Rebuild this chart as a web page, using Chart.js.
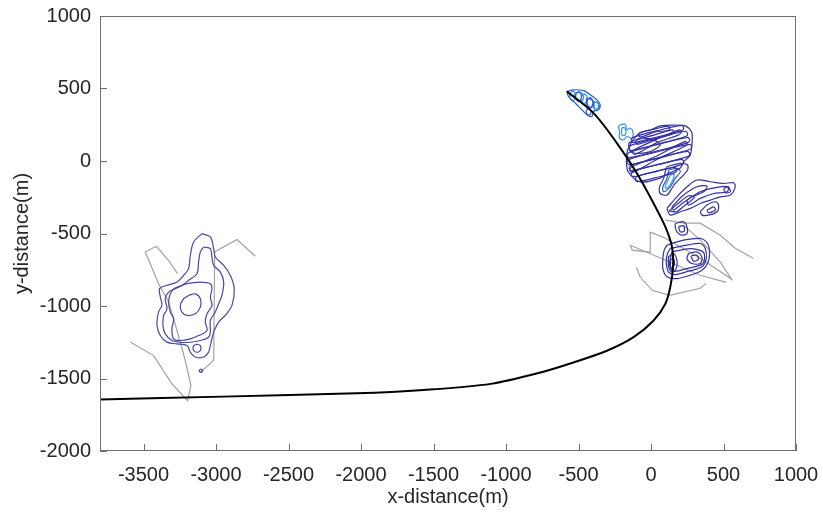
<!DOCTYPE html>
<html>
<head>
<meta charset="utf-8">
<script src="https://cdn.jsdelivr.net/npm/chart.js@4.4.0/dist/chart.umd.min.js"></script>
<style>
  body { margin: 0; background: #fff; }
</style>
</head>
<body>
<canvas id="track-chart" width="823" height="515"></canvas>
<script>
// axis ticks
const xTicks = [-3500, -3000, -2500, -2000, -1500, -1000, -500, 0, 500, 1000];
const yTicks = [-2000, -1500, -1000, -500, 0, 500, 1000];

// black track
const trackX = [-3800, -2950, -2030, -1570, -1105, -763, -530, -300, -120, 18, 99, 133, 152, 145, 99, 18, -97, -234, -396, -580];
const trackY = [-1644, -1625, -1602, -1579, -1537, -1459, -1388, -1307, -1215, -1100, -984, -869, -731, -593, -454, -293, -85, 122, 330, 480];

// left cluster contours
const leftOuter = [[-3097,-501],[-3039,-524],[-3016,-604],[-3005,-662],[-2947,-720],[-2901,-789],[-2874,-881],[-2890,-996],[-2936,-1065],[-2982,-1111],[-3016,-1180],[-3028,-1226],[-3039,-1272],[-3051,-1318],[-3085,-1352],[-3143,-1352],[-3177,-1318],[-3200,-1272],[-3269,-1261],[-3338,-1249],[-3384,-1203],[-3407,-1134],[-3396,-1041],[-3373,-995],[-3384,-938],[-3389,-880],[-3338,-857],[-3269,-834],[-3223,-788],[-3189,-742],[-3177,-650],[-3154,-558]];
const leftSecond = [[-3085,-593],[-3039,-604],[-3028,-662],[-3016,-720],[-2970,-766],[-2947,-835],[-2959,-927],[-2982,-985],[-3005,-1042],[-3039,-1100],[-3039,-1181],[-3051,-1215],[-3108,-1238],[-3177,-1250],[-3246,-1250],[-3304,-1238],[-3350,-1192],[-3366,-1135],[-3361,-1065],[-3338,-1019],[-3350,-950],[-3327,-904],[-3281,-881],[-3235,-858],[-3189,-823],[-3131,-777],[-3120,-697],[-3108,-627]];
const leftThird = [[-3292,-881],[-3200,-846],[-3108,-835],[-3039,-846],[-3028,-881],[-3039,-939],[-3028,-996],[-3062,-1054],[-3074,-1111],[-3062,-1169],[-3120,-1204],[-3177,-1227],[-3246,-1238],[-3292,-1227],[-3304,-1158],[-3292,-1088],[-3315,-1042],[-3327,-973],[-3315,-916]];
const leftInner = [[-3189,-927],[-3143,-916],[-3108,-950],[-3108,-1008],[-3143,-1054],[-3200,-1065],[-3235,-1042],[-3246,-996],[-3223,-950]];
const leftRing = [[-3131,-1263],[-3111,-1271],[-3103,-1291],[-3111,-1311],[-3131,-1319],[-3151,-1311],[-3159,-1291],[-3151,-1271]];
const leftDot = [[-3104,-1434],[-3092,-1446],[-3104,-1458],[-3116,-1446]];

// right cluster: group A (top, near track end)
const aOuter = [[-580,480],[-534,491],[-465,485],[-419,457],[-373,422],[-350,388],[-362,353],[-396,342],[-408,307],[-442,319],[-488,365],[-534,411],[-569,445]];
const aLoop1 = [[-523,468],[-488,475],[-465,445],[-477,411],[-511,422],[-529,445]];
const aLoop2 = [[-442,434],[-408,422],[-396,388],[-419,365],[-447,388]];
const aLoop3 = [[-396,411],[-362,399],[-357,369],[-385,360]];
const aOval1 = [[-540,485],[-522,465],[-522,435],[-540,415],[-558,435],[-558,465]];
const aOval2 = [[-500,480],[-482,460],[-482,430],[-500,410],[-518,430],[-518,460]];
const aOval3 = [[-460,465],[-442,445],[-442,415],[-460,395],[-478,415],[-478,445]];
const aOval4 = [[-420,440],[-402,420],[-402,390],[-420,370],[-438,390],[-438,420]];
const aOval5 = [[-380,410],[-365,395],[-365,365],[-380,350],[-395,365],[-395,395]];
const aOval6 = [[-430,365],[-415,350],[-415,330],[-430,315],[-445,330],[-445,350]];
// group B (butterfly)
const bOuter = [[-212,249],[-178,254],[-166,215],[-143,226],[-125,203],[-132,157],[-166,169],[-189,146],[-217,157],[-217,203],[-224,238]];
const bInner = [[-201,231],[-178,226],[-178,180],[-201,180]];
// group C (dense tangled bands)
const cEnvelope = [[-163,76],[-120,150],[-74,194],[0,215],[64,242],[150,248],[237,242],[280,200],[285,159],[271,41],[230,0],[202,-48],[130,-80],[64,-118],[-74,-145],[-157,-76],[-170,0]];
const cBand1 = [[-139,145],[-124,163],[44,209],[211,246],[226,228],[211,210],[44,165],[-124,127]];
const cBand1b = [[-110,130],[-95,145],[25,180],[145,215],[160,200],[145,185],[25,150],[-95,115]];
const cBand2 = [[-153,90],[-138,108],[50,161],[238,205],[253,187],[238,169],[50,117],[-138,72]];
const cBand3 = [[-167,41],[-152,59],[50,115],[252,163],[267,145],[252,127],[50,71],[-152,23]];
const cBand4 = [[-167,-7],[-152,11],[57,67],[266,115],[281,97],[266,79],[57,23],[-152,-25]];
const cBand5 = [[-153,-48],[-138,-30],[57,22],[252,66],[267,48],[252,30],[57,-22],[-138,-66]];
const cBand6 = [[-139,-90],[-124,-72],[44,-26],[211,11],[226,-7],[211,-25],[44,-70],[-124,-108]];
const cBand7 = [[-111,-124],[-96,-106],[34,-71],[163,-44],[178,-62],[163,-80],[34,-115],[-96,-142]];
const cTangle1 = [[-130,60],[-110,80],[40,150],[195,215],[210,200],[190,180],[40,125],[-110,45]];
const cTangle2 = [[-150,-60],[-130,-40],[50,40],[235,135],[250,118],[230,100],[50,15],[-130,-80]];
const cTangle3 = [[-90,180],[-70,198],[30,222],[120,240],[130,225],[115,210],[30,200],[-70,165]];
const c5 = [[-155,123],[-74,157],[18,146],[64,111],[-5,65],[-86,53],[-143,65]];
// group D (tilted blob)
const dOuter = [[110,-39],[202,-16],[252,-28],[252,-62],[213,-108],[167,-155],[144,-189],[110,-235],[64,-224],[59,-178],[87,-120],[98,-74]];
const dInner = [[121,-62],[179,-51],[202,-74],[167,-120],[133,-178],[87,-212],[82,-178],[110,-120]];
const dCore = [[133,-97],[160,-90],[144,-143],[110,-189],[98,-178]];
// group E (long band)
const eOuter = [[110,-327],[179,-247],[248,-178],[317,-131],[409,-143],[501,-155],[570,-150],[581,-178],[547,-235],[478,-247],[409,-270],[340,-293],[271,-327],[202,-350],[133,-373]];
const eLoop1 = [[144,-316],[225,-235],[317,-178],[386,-173],[363,-212],[282,-247],[202,-304],[156,-339]];
const eLoop2 = [[248,-270],[340,-212],[455,-182],[535,-178],[524,-212],[432,-224],[340,-258],[259,-304]];
const eLoop3 = [[501,-189],[535,-182],[547,-212],[512,-219]];
const eLoop4 = [[125,-345],[190,-290],[260,-240],[300,-250],[240,-300],[175,-350]];
const e2Outer = [[340,-350],[386,-304],[444,-281],[466,-304],[455,-350],[397,-373],[351,-373]];
const e2Inner = [[386,-339],[432,-316],[444,-339],[397,-357]];
// group F (small blob)
const fOuter = [[167,-431],[225,-419],[248,-454],[248,-500],[213,-511],[179,-488],[167,-454]];
const fInner = [[190,-454],[225,-447],[229,-484],[202,-488]];
// group G (concentric, lower)
const gOuter = [[110,-580],[225,-546],[340,-534],[390,-569],[404,-638],[390,-707],[351,-753],[271,-788],[179,-811],[110,-799],[82,-742],[82,-673],[91,-615]];
const gSecond = [[133,-603],[248,-580],[340,-569],[374,-604],[381,-673],[351,-730],[259,-760],[167,-783],[121,-765],[105,-696],[114,-638]];
const gMid = [[144,-627],[271,-604],[363,-631],[358,-707],[248,-742],[156,-760],[128,-719]];
const gLeft = [[121,-661],[156,-638],[179,-684],[174,-742],[144,-765],[121,-730]];
const gLeftIn = [[133,-684],[156,-673],[160,-719],[137,-737]];
const gRight = [[259,-638],[317,-627],[351,-661],[340,-707],[282,-707],[248,-673]];
const gRightIn = [[275,-654],[317,-650],[328,-677],[294,-691]];

// grey paths (open)
const greyLeft1 = [[-3591,-1249],[-3430,-1342],[-3304,-1537],[-3196,-1653],[-3173,-1549],[-3212,-1376],[-3269,-1169],[-3327,-973],[-3396,-846],[-3488,-627],[-3412,-588],[-3327,-685],[-3265,-777]];
const greyLeft2 = [[-3108,-1457],[-3016,-1376],[-3009,-627],[-2855,-542],[-2729,-657]];
const greyRight1 = [[-143,-581],[-129,-615],[-5,-629],[-5,-491],[99,-533],[340,-671],[547,-809],[561,-823],[478,-698],[340,-546],[223,-442]];
const greyRight2 = [[-101,-733],[-74,-802],[9,-892],[128,-927],[340,-878],[381,-844]];
const greyRight3 = [[-143,-581],[133,-698],[340,-788],[519,-837]];
const greyRight4 = [[99,-408],[223,-429],[340,-429],[478,-512],[581,-602],[705,-671]];

const leftNavy = [leftOuter, leftSecond, leftThird, leftInner, leftRing, leftDot];
const navyLoops = [cEnvelope, cBand1, cBand1b, cBand2, cBand3, cBand4, cBand5, cBand6, cBand7, cTangle1, cTangle2, cTangle3, c5, dOuter, eOuter, eLoop1, eLoop2, eLoop3, eLoop4, e2Outer, e2Inner, fOuter, fInner, gOuter, gSecond, gMid, gLeft, gLeftIn, gRight, gRightIn];
const blueLoops = [aOuter, aLoop2, aOval2, aOval4, aOval6, dInner];
const lightLoops = [aLoop1, aLoop3, aOval1, aOval3, aOval5, bOuter, bInner, dCore];
const greyPaths = [greyLeft1, greyLeft2, greyRight1, greyRight2, greyRight3, greyRight4];

function toPoints(pairs, closed) {
  const pts = pairs.map(([x, y]) => ({ x, y }));
  if (closed) pts.push({ x: pairs[0][0], y: pairs[0][1] });
  return pts;
}

function lineSet(data, color, width, tension) {
  return {
    data,
    showLine: true,
    borderColor: color,
    borderWidth: width,
    pointRadius: 0,
    tension,
  };
}

const datasets = [
  lineSet(trackX.map((x, i) => ({ x, y: trackY[i] })), "#000000", 2, 0.3),
];
navyLoops.forEach((c) => datasets.push(lineSet(toPoints(c, true), "rgb(52,50,160)", 1.2, 0.3)));
blueLoops.forEach((c) => datasets.push(lineSet(toPoints(c, true), "rgb(40,90,210)", 1.2, 0.35)));
lightLoops.forEach((c) => datasets.push(lineSet(toPoints(c, true), "rgb(55,150,230)", 1.2, 0.35)));
leftNavy.forEach((c) => datasets.push(lineSet(toPoints(c, true), "rgb(72,72,165)", 1.2, 0.35)));
greyPaths.forEach((c) => datasets.push(lineSet(toPoints(c, false), "#a3a3a3", 1.2, 0)));

const frame = {
  id: "frame",
  afterDraw(chart) {
    const { ctx, chartArea: a, scales: { x, y } } = chart;
    ctx.save();
    ctx.strokeStyle = "#707070";
    ctx.lineWidth = 1;
    ctx.strokeRect(a.left + 0.5, a.top + 0.5, a.width - 1, a.height - 1);
    ctx.beginPath();
    xTicks.forEach((v) => {
      const px = Math.round(x.getPixelForValue(v)) + 0.5;
      ctx.moveTo(px, a.bottom);
      ctx.lineTo(px, a.bottom - 7);
    });
    yTicks.forEach((v) => {
      const py = Math.round(y.getPixelForValue(v)) + 0.5;
      ctx.moveTo(a.left, py);
      ctx.lineTo(a.left + 7, py);
    });
    ctx.stroke();
    ctx.restore();
  },
};

const font = { family: "'Liberation Sans', Arial, sans-serif", size: 20 };

const config = {
  type: "scatter",
  data: { datasets },
  options: {
    responsive: false,
    animation: false,
    layout: { padding: { top: 16, right: 27, bottom: 6, left: 0 } },
    plugins: { legend: { display: false }, tooltip: { enabled: false } },
    scales: {
      x: {
        type: "linear",
        min: -3800,
        max: 1000,
        afterBuildTicks: (s) => { s.ticks = xTicks.map((value) => ({ value })); },
        afterFit: (s) => { s.height = 58; s.paddingLeft = 0; s.paddingRight = 0; },
        grid: { display: false, drawTicks: false },
        border: { display: false },
        ticks: { font, color: "#262626", padding: 12, maxRotation: 0, autoSkip: false, callback: (v) => String(v) },
        title: { display: true, text: "x-distance(m)", font, color: "#262626", padding: 0 },
      },
      y: {
        type: "linear",
        min: -2000,
        max: 1000,
        afterBuildTicks: (s) => { s.ticks = yTicks.map((value) => ({ value })); },
        afterFit: (s) => { s.width = 100; s.paddingTop = 0; s.paddingBottom = 0; },
        grid: { display: false, drawTicks: false },
        border: { display: false },
        ticks: { font, color: "#262626", padding: 9, autoSkip: false, callback: (v) => String(v) },
        title: { display: true, text: "y-distance(m)", font, color: "#262626", padding: { top: 10, bottom: 0 } },
      },
    },
  },
  plugins: [frame],
};

const ctx = document.getElementById("track-chart").getContext("2d");
const trackChart = new Chart(ctx, config);
</script>
</body>
</html>
